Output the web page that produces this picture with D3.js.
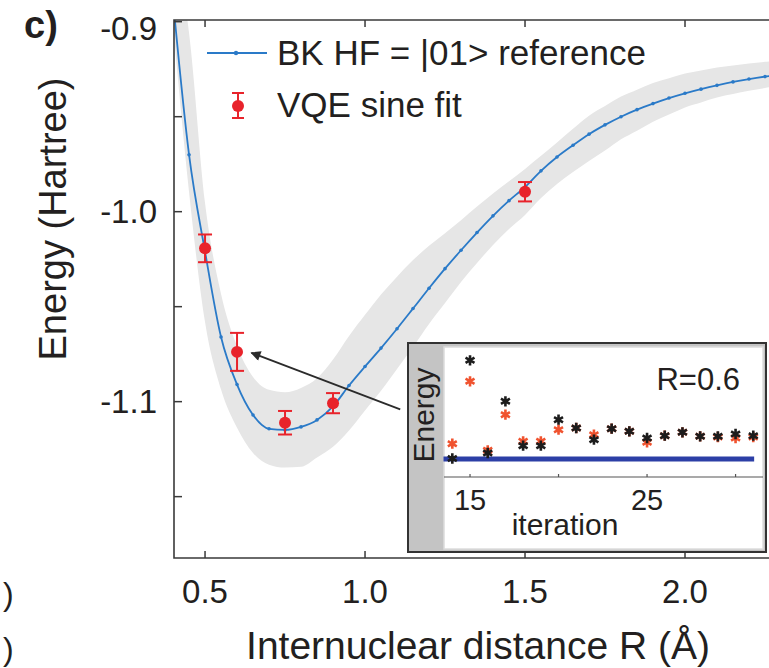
<!DOCTYPE html>
<html>
<head>
<meta charset="utf-8">
<script src="https://d3js.org/d3.v7.min.js"></script>
<style>
  body { margin: 0; background: #fff; }
  text { font-family: "Liberation Sans", Arial, Helvetica, sans-serif; fill: #231f20; }
</style>
</head>
<body>
<script>
// bond lengths (Angstrom) of the reference curve
var distances = [0.40, 0.45, 0.50, 0.55, 0.60, 0.65, 0.70, 0.75, 0.80, 0.85,
                 0.90, 0.95, 1.00, 1.05, 1.10, 1.15, 1.20, 1.25, 1.30, 1.35,
                 1.40, 1.45, 1.50, 1.55, 1.60, 1.65, 1.70, 1.75, 1.80, 1.85,
                 1.90, 1.95, 2.00, 2.05, 2.10, 2.15, 2.20, 2.25, 2.30];

// BK HF = |01> reference energies (Hartree)
var refEnergy = [-0.889, -0.970, -1.021, -1.066, -1.091, -1.107, -1.1143, -1.1149, -1.1133, -1.1096,
                 -1.1025, -1.0915, -1.0815, -1.0718, -1.0616, -1.0510, -1.0403, -1.0300, -1.0203, -1.0110,
                 -1.0022, -0.9942, -0.9870, -0.9785, -0.9712, -0.9650, -0.9592, -0.9543, -0.9500, -0.9463,
                 -0.9431, -0.9402, -0.9377, -0.9355, -0.9335, -0.9317, -0.9302, -0.9289, -0.9278];

// grey band round the reference curve
var bandUpper = [-0.857, -0.9059, -0.9954, -1.0433, -1.0707, -1.0870, -1.0938, -1.0951, -1.0928, -1.0877,
                 -1.0778, -1.0654, -1.0543, -1.0436, -1.0342, -1.0255, -1.0180, -1.0114, -1.0045, -0.9973,
                 -0.9904, -0.9840, -0.9775, -0.9706, -0.9636, -0.9564, -0.9495, -0.9444, -0.9394, -0.9358,
                 -0.9323, -0.9298, -0.9273, -0.9257, -0.9241, -0.9230, -0.9220, -0.9211, -0.9204];
var bandLower = [-0.9017, -0.9896, -1.0581, -1.0936, -1.1137, -1.1270, -1.1332, -1.1347, -1.1343, -1.1294,
                 -1.1238, -1.1152, -1.1046, -1.0943, -1.0828, -1.0712, -1.0591, -1.0481, -1.0370, -1.0270,
                 -1.0175, -1.0091, -1.0017, -0.9928, -0.9854, -0.9791, -0.9733, -0.9678, -0.9619, -0.9574,
                 -0.9527, -0.9489, -0.9451, -0.9425, -0.9399, -0.9381, -0.9364, -0.9349, -0.9336];

// VQE sine fit points
var vqeR = [0.50, 0.60, 0.75, 0.90, 1.50];
var vqeEnergy = [-1.0193, -1.0738, -1.1111, -1.1008, -0.9895];
var vqeError = [0.0073, 0.0100, 0.0062, 0.0053, 0.0051];

// inset: energy per iteration at R=0.6 (arbitrary offset units)
var iterations = [14, 15, 16, 17, 18, 19, 20, 21, 22, 23, 24, 25, 26, 27, 28, 29, 30, 31];
var insetRed = [15.3, 77.7, 8.7, 44.3, 17.7, 17.7, 29.3, 31.0, 24.3, 30.3, 27.7, 16.7, 23.3, 26.7, 22.7, 22.0, 21.0, 22.0];
var insetBlack = [0.5, 98.7, 6.0, 57.7, 13.3, 13.3, 39.3, 31.0, 19.3, 30.3, 27.7, 21.0, 23.3, 26.7, 22.7, 22.7, 25.0, 23.3];
var insetRefIter = [13.5, 31.05];
var insetRefValue = 0;

// tick values
var xTicks = [0.5, 1.0, 1.5, 2.0];
var yTicks = [-0.9, -0.95, -1.0, -1.05, -1.1, -1.15];
var insetTicks = [15, 20, 25, 30];
var insetTickLabels = [15, 25];

var width = 769;
var height = 668;
var blue = "#2a7ac8";
var red = "#e8232b";
var frameColor = "#3a3a3a";

var svg = d3.select("body")
            .append("svg")
            .attr("width", width)
            .attr("height", height);

// main plot frame (right edge lies just outside the picture)
var plotLeft = 174, plotTop = 20, plotBottom = 558;

var x = d3.scaleLinear().domain([0.403, 2.3]).range([plotLeft, 781]);
var y = d3.scaleLinear().domain([-1.1823, -0.9]).range([plotBottom, 21.7]);

var defs = svg.append("defs");

defs.append("clipPath")
    .attr("id", "plotClip")
    .append("rect")
    .attr("x", plotLeft)
    .attr("y", plotTop)
    .attr("width", width - plotLeft)
    .attr("height", plotBottom - plotTop);

var plot = svg.append("g").attr("clip-path", "url(#plotClip)");

// grey band
var band = d3.area()
             .x(function(d, i) { return x(distances[i]); })
             .y0(function(d, i) { return y(bandLower[i]); })
             .y1(function(d, i) { return y(bandUpper[i]); })
             .curve(d3.curveMonotoneX);

plot.append("path")
    .datum(distances)
    .attr("d", band)
    .attr("fill", "#e6e6e6");

// reference curve with small dots
var line = d3.line()
             .x(function(d, i) { return x(distances[i]); })
             .y(function(d, i) { return y(refEnergy[i]); })
             .curve(d3.curveMonotoneX);

plot.append("path")
    .datum(distances)
    .attr("d", line)
    .attr("fill", "none")
    .attr("stroke", blue)
    .attr("stroke-width", 1.8);

plot.selectAll("circle.ref")
    .data(distances)
    .enter()
    .append("circle")
    .attr("class", "ref")
    .attr("cx", function(d) { return x(d); })
    .attr("cy", function(d, i) { return y(refEnergy[i]); })
    .attr("r", 1.8)
    .attr("fill", blue);

// VQE points with error bars
var capHalf = 7;
var vqe = plot.selectAll("g.vqe")
              .data(vqeR)
              .enter()
              .append("g")
              .attr("class", "vqe");

vqe.append("line")
   .attr("x1", function(d) { return x(d); })
   .attr("x2", function(d) { return x(d); })
   .attr("y1", function(d, i) { return y(vqeEnergy[i] + vqeError[i]); })
   .attr("y2", function(d, i) { return y(vqeEnergy[i] - vqeError[i]); })
   .attr("stroke", red)
   .attr("stroke-width", 2);

[1, -1].forEach(function(sign) {
  vqe.append("line")
     .attr("x1", function(d) { return x(d) - capHalf; })
     .attr("x2", function(d) { return x(d) + capHalf; })
     .attr("y1", function(d, i) { return y(vqeEnergy[i] + sign * vqeError[i]); })
     .attr("y2", function(d, i) { return y(vqeEnergy[i] + sign * vqeError[i]); })
     .attr("stroke", red)
     .attr("stroke-width", 2);
});

vqe.append("circle")
   .attr("cx", function(d) { return x(d); })
   .attr("cy", function(d, i) { return y(vqeEnergy[i]); })
   .attr("r", 6)
   .attr("fill", red);

// arrow from the inset to the R=0.6 point
defs.append("marker")
    .attr("id", "arrowHead")
    .attr("viewBox", "0 0 10 10")
    .attr("refX", 9)
    .attr("refY", 5)
    .attr("markerWidth", 16)
    .attr("markerHeight", 10)
    .attr("orient", "auto")
    .attr("markerUnits", "userSpaceOnUse")
    .append("path")
    .attr("d", "M0,0 L10,5 L0,10 Z")
    .attr("fill", "#2b2b2b");

svg.append("line")
   .attr("x1", x(1.11))
   .attr("y1", y(-1.1041))
   .attr("x2", x(0.645))
   .attr("y2", y(-1.0743))
   .attr("stroke", "#2b2b2b")
   .attr("stroke-width", 1.8)
   .attr("marker-end", "url(#arrowHead)");

// frame and inward ticks
svg.append("path")
   .attr("d", "M" + (width + 5) + "," + plotTop + " H" + plotLeft + " V" + plotBottom + " H" + (width + 5))
   .attr("fill", "none")
   .attr("stroke", frameColor)
   .attr("stroke-width", 1.6);

svg.selectAll("line.ytick")
   .data(yTicks)
   .enter()
   .append("line")
   .attr("x1", plotLeft)
   .attr("x2", plotLeft + 8)
   .attr("y1", function(d) { return y(d); })
   .attr("y2", function(d) { return y(d); })
   .attr("stroke", frameColor)
   .attr("stroke-width", 1.5);

svg.selectAll("line.xtickTop")
   .data(xTicks)
   .enter()
   .append("line")
   .attr("x1", function(d) { return x(d); })
   .attr("x2", function(d) { return x(d); })
   .attr("y1", plotTop)
   .attr("y2", plotTop + 7)
   .attr("stroke", frameColor)
   .attr("stroke-width", 1.5);

svg.selectAll("line.xtickBottom")
   .data(xTicks)
   .enter()
   .append("line")
   .attr("x1", function(d) { return x(d); })
   .attr("x2", function(d) { return x(d); })
   .attr("y1", plotBottom)
   .attr("y2", plotBottom - 7)
   .attr("stroke", frameColor)
   .attr("stroke-width", 1.5);

// tick labels (the top one sits a little lower, as in the figure)
svg.selectAll("text.ylabel")
   .data(yTicks.filter(function(d) { return Math.abs(d * 10 - Math.round(d * 10)) < 1e-6; }))
   .enter()
   .append("text")
   .attr("x", 157)
   .attr("y", function(d) { return Math.max(y(d), 28); })
   .attr("dy", "0.35em")
   .attr("text-anchor", "end")
   .style("font-size", "33px")
   .text(function(d) { return d.toFixed(1); });

svg.selectAll("text.xlabel")
   .data(xTicks)
   .enter()
   .append("text")
   .attr("x", function(d) { return x(d); })
   .attr("y", 603)
   .attr("text-anchor", "middle")
   .style("font-size", "33px")
   .text(function(d) { return d.toFixed(1); });

// axis titles
svg.append("text")
   .attr("x", 478)
   .attr("y", 659)
   .attr("text-anchor", "middle")
   .style("font-size", "39px")
   .text("Internuclear distance R (Å)");

svg.append("text")
   .attr("transform", "translate(66,219)rotate(-90)")
   .attr("text-anchor", "middle")
   .style("font-size", "38px")
   .text("Energy (Hartree)");

svg.append("text")
   .attr("x", 24)
   .attr("y", 38)
   .style("font-size", "38px")
   .style("font-weight", "bold")
   .text("c)");

// brackets left over from neighbouring panel labels
[605, 660].forEach(function(b) {
  svg.append("text")
     .attr("x", 3)
     .attr("y", b)
     .style("font-size", "32px")
     .text(")");
});

// legend
svg.append("line")
   .attr("x1", 207).attr("x2", 267)
   .attr("y1", 53).attr("y2", 53)
   .attr("stroke", blue)
   .attr("stroke-width", 2);
svg.append("circle")
   .attr("cx", 236).attr("cy", 53).attr("r", 2.2)
   .attr("fill", blue);
svg.append("text")
   .attr("x", 277).attr("y", 65)
   .style("font-size", "35px")
   .text("BK HF = |01> reference");

svg.append("line")
   .attr("x1", 238).attr("x2", 238)
   .attr("y1", 93).attr("y2", 118)
   .attr("stroke", red).attr("stroke-width", 2);
[93, 118].forEach(function(c) {
  svg.append("line")
     .attr("x1", 232).attr("x2", 244)
     .attr("y1", c).attr("y2", c)
     .attr("stroke", red).attr("stroke-width", 2);
});
svg.append("circle")
   .attr("cx", 238).attr("cy", 106).attr("r", 6)
   .attr("fill", red);
svg.append("text")
   .attr("x", 277).attr("y", 117)
   .style("font-size", "35px")
   .text("VQE sine fit");

// inset
var inset = svg.append("g").attr("class", "inset");
var insetBox = {x: 408, y: 343, w: 358, h: 209};
var innerLeft = 444, innerRight = 763, innerTop = 347, axisY = 477, innerBottom = 549;

inset.append("rect")
     .attr("x", insetBox.x).attr("y", insetBox.y)
     .attr("width", insetBox.w).attr("height", insetBox.h)
     .attr("fill", "#c4c4c4");

inset.append("rect")
     .attr("x", innerLeft).attr("y", innerTop)
     .attr("width", innerRight - innerLeft).attr("height", innerBottom - innerTop)
     .attr("fill", "#fff")
     .attr("stroke", "#dcdcdc")
     .attr("stroke-width", 1.5);

inset.append("rect")
     .attr("x", insetBox.x).attr("y", insetBox.y)
     .attr("width", insetBox.w).attr("height", insetBox.h)
     .attr("fill", "none")
     .attr("stroke", "#333")
     .attr("stroke-width", 2);

var xi = d3.scaleLinear().domain([13.53, 31.55]).range([innerLeft, innerRight]);
var yi = d3.scaleLinear().domain([-18, 112]).range([axisY, innerTop]);

inset.append("line")
     .attr("x1", innerLeft).attr("x2", innerRight)
     .attr("y1", axisY).attr("y2", axisY)
     .attr("stroke", "#555")
     .attr("stroke-width", 1.2);

inset.selectAll("line.itick")
     .data(insetTicks)
     .enter()
     .append("line")
     .attr("x1", function(d) { return xi(d); })
     .attr("x2", function(d) { return xi(d); })
     .attr("y1", axisY)
     .attr("y2", axisY - 3)
     .attr("stroke", "#555")
     .attr("stroke-width", 1.2);

inset.append("line")
     .attr("x1", xi(insetRefIter[0]))
     .attr("x2", xi(insetRefIter[1]))
     .attr("y1", yi(insetRefValue))
     .attr("y2", yi(insetRefValue))
     .attr("stroke", "#2c3fa6")
     .attr("stroke-width", 5);

var star = d3.symbol().type(d3.symbolAsterisk).size(75);

inset.selectAll("path.redStar")
     .data(iterations)
     .enter()
     .append("path")
     .attr("d", star)
     .attr("transform", function(d, i) { return "translate(" + xi(d) + "," + yi(insetRed[i]) + ")"; })
     .attr("fill", "none")
     .attr("stroke", "#f0532f")
     .attr("stroke-width", 2.6);

inset.selectAll("path.blackStar")
     .data(iterations)
     .enter()
     .append("path")
     .attr("d", star)
     .attr("transform", function(d, i) { return "translate(" + xi(d) + "," + yi(insetBlack[i]) + ")"; })
     .attr("fill", "none")
     .attr("stroke", "#1c1c1c")
     .attr("stroke-width", 2.6);

inset.selectAll("text.ilabel")
     .data(insetTickLabels)
     .enter()
     .append("text")
     .attr("x", function(d) { return xi(d); })
     .attr("y", 510)
     .attr("text-anchor", "middle")
     .style("font-size", "29px")
     .text(function(d) { return d; });

inset.append("text")
     .attr("x", 565).attr("y", 535)
     .attr("text-anchor", "middle")
     .style("font-size", "30px")
     .text("iteration");

inset.append("text")
     .attr("transform", "translate(434,415)rotate(-90)")
     .attr("text-anchor", "middle")
     .style("font-size", "30px")
     .text("Energy");

inset.append("text")
     .attr("x", 740).attr("y", 390)
     .attr("text-anchor", "end")
     .style("font-size", "31px")
     .text("R=0.6");
</script>
</body>
</html>
